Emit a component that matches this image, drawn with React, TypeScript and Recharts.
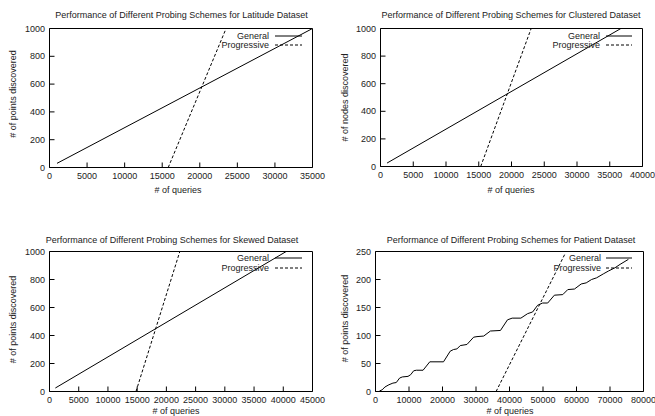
import React from "react";
import { LineChart, Line, XAxis, YAxis } from "recharts";

// ---- data ----
const latitudeGeneral = [
  { q: 1000, n: 30 },
  { q: 35000, n: 1000 },
];
const latitudeProgressive = [
  { q: 15800, n: 0 },
  { q: 23500, n: 1000 },
];

const clusteredGeneral = [
  { q: 1000, n: 25 },
  { q: 36700, n: 1000 },
];
const clusteredProgressive = [
  { q: 15300, n: 0 },
  { q: 23000, n: 1000 },
];

const skewedGeneral = [
  { q: 1000, n: 25 },
  { q: 40500, n: 1000 },
];
const skewedProgressive = [
  { q: 14800, n: 0 },
  { q: 22300, n: 1000 },
];

const patientGeneral = [
  { q: 1200, n: 1 }, { q: 2000, n: 3 }, { q: 2800, n: 8 }, { q: 4000, n: 12 },
  { q: 5200, n: 15 }, { q: 6200, n: 16 }, { q: 7200, n: 24 }, { q: 8000, n: 26 },
  { q: 9700, n: 27 }, { q: 10500, n: 30 }, { q: 11400, n: 37 }, { q: 12200, n: 38 },
  { q: 14200, n: 38 }, { q: 16200, n: 53 }, { q: 20300, n: 53 }, { q: 22300, n: 72 },
  { q: 23300, n: 75 }, { q: 24300, n: 76 }, { q: 25300, n: 82 }, { q: 27300, n: 84 },
  { q: 29300, n: 97 }, { q: 30300, n: 98 }, { q: 32300, n: 99 }, { q: 34300, n: 108 },
  { q: 37300, n: 109 }, { q: 39400, n: 128 }, { q: 40800, n: 131 }, { q: 43400, n: 131 },
  { q: 45400, n: 139 }, { q: 46900, n: 142 }, { q: 48400, n: 154 }, { q: 49900, n: 158 },
  { q: 51400, n: 158 }, { q: 53400, n: 172 }, { q: 55900, n: 173 }, { q: 57400, n: 182 },
  { q: 59400, n: 183 }, { q: 61400, n: 192 }, { q: 62900, n: 194 }, { q: 64500, n: 200 },
  { q: 66000, n: 203 }, { q: 68000, n: 210 }, { q: 69500, n: 215 }, { q: 71500, n: 221 },
  { q: 73000, n: 227 }, { q: 75500, n: 236 },
];
const patientProgressive = [
  { q: 36000, n: 0 },
  { q: 56500, n: 245 },
];

const latitudeXTicks = [0, 5000, 10000, 15000, 20000, 25000, 30000, 35000];
const clusteredXTicks = [0, 5000, 10000, 15000, 20000, 25000, 30000, 35000, 40000];
const skewedXTicks = [0, 5000, 10000, 15000, 20000, 25000, 30000, 35000, 40000, 45000];
const patientXTicks = [0, 10000, 20000, 30000, 40000, 50000, 60000, 70000, 80000];
const countYTicks = [0, 200, 400, 600, 800, 1000];
const patientYTicks = [0, 50, 100, 150, 200, 250];

const FONT = "'Liberation Sans', Arial, Helvetica, sans-serif";
const INK = "#222";

type Pt = { q: number; n: number };

function Panel(props: {
  left: number;
  top: number;
  width: number;
  height: number;
  plot: { l: number; r: number; t: number; b: number };
  xTicks: number[];
  yTicks: number[];
  general: Pt[];
  progressive: Pt[];
  title: string;
  yLabel: string;
  titlePos: [number, number];
  xLabelPos: [number, number];
  yLabelPos: [number, number];
  legend: { right: number; s1: number; s2: number; y1: number; y2: number };
}) {
  const { plot, xTicks, yTicks, legend } = props;
  const xDomain = [xTicks[0], xTicks[xTicks.length - 1]];
  const yDomain = [yTicks[0], yTicks[yTicks.length - 1]];
  const tickStyle = { fontSize: 9, fill: INK, fontFamily: FONT };
  return (
    <div
      style={{
        position: "absolute",
        left: props.left,
        top: props.top,
        width: props.width,
        height: props.height,
      }}
    >
      <LineChart
        width={props.width}
        height={props.height}
        margin={{ top: 0, right: 0, bottom: 0, left: 0 }}
        style={{ position: "absolute", left: 0, top: 0 }}
      >
        <XAxis
          xAxisId={0}
          dataKey="q"
          type="number"
          domain={xDomain}
          ticks={xTicks}
          interval={0}
          allowDataOverflow
          height={props.height - plot.b}
          stroke="#000"
          tickSize={-5}
          tickMargin={10}
          tick={tickStyle}
        />
        <XAxis
          xAxisId="top"
          orientation="top"
          dataKey="q"
          type="number"
          domain={xDomain}
          ticks={xTicks}
          interval={0}
          allowDataOverflow
          height={plot.t}
          stroke="#000"
          tickSize={-5}
          tick={false}
        />
        <YAxis
          yAxisId={0}
          type="number"
          domain={yDomain}
          ticks={yTicks}
          interval={0}
          allowDataOverflow
          width={plot.l}
          stroke="#000"
          tickSize={-5}
          tickMargin={9.5}
          tick={tickStyle}
        />
        <YAxis
          yAxisId="right"
          orientation="right"
          type="number"
          domain={yDomain}
          ticks={yTicks}
          interval={0}
          allowDataOverflow
          width={props.width - plot.r}
          stroke="#000"
          tickSize={-5}
          tick={false}
        />
        <Line
          data={props.general}
          dataKey="n"
          type="linear"
          stroke="#000"
          strokeWidth={1}
          dot={false}
          activeDot={false}
          isAnimationActive={false}
        />
        <Line
          data={props.progressive}
          dataKey="n"
          type="linear"
          stroke="#000"
          strokeWidth={1}
          strokeDasharray="3 2"
          dot={false}
          activeDot={false}
          isAnimationActive={false}
        />
      </LineChart>
      <svg
        width={props.width}
        height={props.height}
        style={{ position: "absolute", left: 0, top: 0, pointerEvents: "none", overflow: "visible" }}
        fontFamily={FONT}
        fill={INK}
        fontSize={9}
      >
        <text x={props.titlePos[0]} y={props.titlePos[1]} textAnchor="middle" dominantBaseline="central">
          {props.title}
        </text>
        <text x={props.xLabelPos[0]} y={props.xLabelPos[1]} textAnchor="middle" dominantBaseline="central">
          # of queries
        </text>
        <text
          x={props.yLabelPos[0]}
          y={props.yLabelPos[1]}
          textAnchor="middle"
          dominantBaseline="central"
          transform={`rotate(-90 ${props.yLabelPos[0]} ${props.yLabelPos[1]})`}
        >
          {props.yLabel}
        </text>
        <text x={legend.right} y={legend.y1} textAnchor="end" dominantBaseline="central">
          General
        </text>
        <text x={legend.right} y={legend.y2} textAnchor="end" dominantBaseline="central">
          Progressive
        </text>
        <line x1={legend.s1} x2={legend.s2} y1={legend.y1} y2={legend.y1} stroke="#000" strokeWidth={1} />
        <line
          x1={legend.s1}
          x2={legend.s2}
          y1={legend.y2}
          y2={legend.y2}
          stroke="#000"
          strokeWidth={1}
          strokeDasharray="3 2"
        />
      </svg>
    </div>
  );
}

export default function App() {
  return (
    <div
      style={{
        position: "absolute",
        left: 0,
        top: 0,
        width: 655,
        height: 416,
        background: "#fff",
        overflow: "hidden",
        fontFamily: FONT,
      }}
    >
      <Panel
        left={0}
        top={0}
        width={330}
        height={200}
        plot={{ l: 49.5, r: 312.5, t: 28.5, b: 167.5 }}
        xTicks={latitudeXTicks}
        yTicks={countYTicks}
        general={latitudeGeneral}
        progressive={latitudeProgressive}
        title="Performance of Different Probing Schemes for Latitude Dataset"
        yLabel="# of points discovered"
        titlePos={[181.5, 15]}
        xLabelPos={[178, 190]}
        yLabelPos={[13, 94]}
        legend={{ right: 269, s1: 275, s2: 302, y1: 36, y2: 45 }}
      />
      <Panel
        left={330}
        top={0}
        width={325}
        height={200}
        plot={{ l: 50.5, r: 312.5, t: 28.5, b: 166.5 }}
        xTicks={clusteredXTicks}
        yTicks={countYTicks}
        general={clusteredGeneral}
        progressive={clusteredProgressive}
        title="Performance of Different Probing Schemes for Clustered Dataset"
        yLabel="# of nodes discovered"
        titlePos={[181, 15]}
        xLabelPos={[181, 190]}
        yLabelPos={[15, 97.5]}
        legend={{ right: 270, s1: 276, s2: 302, y1: 36, y2: 45 }}
      />
      <Panel
        left={0}
        top={224}
        width={330}
        height={192}
        plot={{ l: 49.5, r: 312.5, t: 27.5, b: 167.5 }}
        xTicks={skewedXTicks}
        yTicks={countYTicks}
        general={skewedGeneral}
        progressive={skewedProgressive}
        title="Performance of Different Probing Schemes for Skewed Dataset"
        yLabel="# of points discovered"
        titlePos={[172, 16]}
        xLabelPos={[176, 187]}
        yLabelPos={[13, 95.5]}
        legend={{ right: 269, s1: 275, s2: 302, y1: 34, y2: 44 }}
      />
      <Panel
        left={330}
        top={224}
        width={325}
        height={192}
        plot={{ l: 45.5, r: 313.5, t: 27.5, b: 167.5 }}
        xTicks={patientXTicks}
        yTicks={patientYTicks}
        general={patientGeneral}
        progressive={patientProgressive}
        title="Performance of Different Probing Schemes for Patient Dataset"
        yLabel="# of points discovered"
        titlePos={[181, 16]}
        xLabelPos={[180, 187]}
        yLabelPos={[15, 94.5]}
        legend={{ right: 271, s1: 276, s2: 302, y1: 34, y2: 44 }}
      />
    </div>
  );
}
